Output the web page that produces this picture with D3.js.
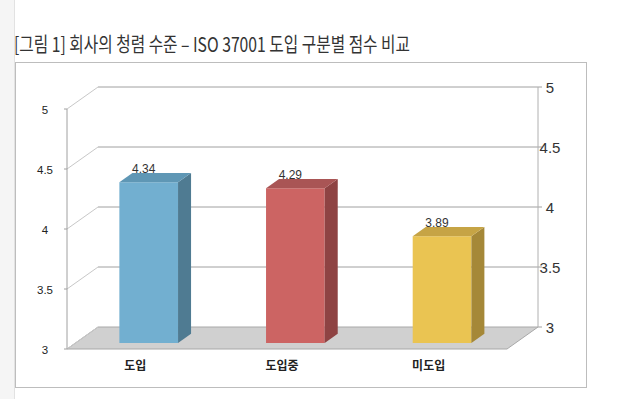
<!DOCTYPE html>
<html>
<head>
<meta charset="utf-8">
<script src="https://cdn.jsdelivr.net/npm/d3@7"></script>
<style>
  html, body { margin: 0; padding: 0; background: #fff; }
  svg { display: block; }
</style>
</head>
<body>
<div id="chart"></div>
<script>
// chart data
const titleText = "[그림 1] 회사의 청렴 수준 – ISO 37001 도입 구분별 점수 비교";
const categories = ["도입", "도입중", "미도입"];
const scores = [4.34, 4.29, 3.89];
const tickValues = [3, 3.5, 4, 4.5, 5];
const barColors = [
    { front: "#72afd0", side: "#4f7b92", top: "#5f97b5" },
    { front: "#cc6463", side: "#8e4343", top: "#a95555" },
    { front: "#eac452", side: "#a58838", top: "#c6a445" }
];

const W = 637, H = 399;
const svg = d3.select("#chart").append("svg")
    .attr("width", W)
    .attr("height", H);

// page background: gray side strip + title
svg.append("rect").attr("x", 0).attr("y", 0).attr("width", 14).attr("height", H).attr("fill", "#f5f5f5");
svg.append("line").attr("x1", 14.5).attr("x2", 14.5).attr("y1", 0).attr("y2", H).attr("stroke", "#e2e2e2");

svg.append("text")
    .attr("x", 14)
    .attr("y", 52)
    .attr("font-family", "'Noto Sans CJK KR', 'Noto Sans', sans-serif")
    .attr("font-size", 20)
    .attr("fill", "#333")
    .attr("textLength", 396)
    .attr("lengthAdjust", "spacingAndGlyphs")
    .text(titleText);

// chart frame
svg.append("rect")
    .attr("x", 15.5).attr("y", 62.5)
    .attr("width", 571).attr("height", 325)
    .attr("fill", "#fff")
    .attr("stroke", "#bdbdbd");

// 3d geometry: front floor edge origin and depth offset
const ox = 67, oy = 349, floorW = 440;
const depthX = 31, depthY = -22;

const x = d3.scaleBand().domain(categories).range([0, floorW]);
const y = d3.scaleLinear().domain([3, 5]).range([0, 240]);

// project (x along floor, value, depth 0=front..1=back) to screen
function proj(px, v, d) {
    return [ox + px + depthX * d, oy - y(v) + depthY * d];
}
const pts = arr => arr.map(p => p.join(",")).join(" ");

const g = svg.append("g");

// floor
g.append("polygon")
    .attr("points", pts([proj(0, 3, 0), proj(0, 3, 1), proj(floorW, 3, 1), proj(floorW, 3, 0)]))
    .attr("fill", "#d0d0d0")
    .attr("stroke", "#a8a8a8");

// back wall gridlines and side diagonals
tickValues.forEach(v => {
    const a = proj(0, v, 0), b = proj(0, v, 1), c = proj(floorW, v, 1);
    if (v > 3) {
        g.append("line")
            .attr("x1", b[0]).attr("y1", b[1]).attr("x2", c[0]).attr("y2", c[1])
            .attr("stroke", "#a0a0a0");
    }
    g.append("line")
        .attr("x1", a[0]).attr("y1", a[1]).attr("x2", b[0]).attr("y2", b[1])
        .attr("stroke", "#c8c8c8");
    // left tick
    g.append("line")
        .attr("x1", a[0] - 3).attr("y1", a[1]).attr("x2", a[0]).attr("y2", a[1])
        .attr("stroke", "#a0a0a0");
    // right tick
    g.append("line")
        .attr("x1", c[0]).attr("y1", c[1]).attr("x2", c[0] + 4).attr("y2", c[1])
        .attr("stroke", "#a0a0a0");
});

// left front axis and right back axis
const lf0 = proj(0, 3, 0), lf1 = proj(0, 5, 0);
g.append("line").attr("x1", lf0[0]).attr("y1", lf0[1]).attr("x2", lf1[0]).attr("y2", lf1[1]).attr("stroke", "#a0a0a0");
const rb0 = proj(floorW, 3, 1), rb1 = proj(floorW, 5, 1);
g.append("line").attr("x1", rb0[0]).attr("y1", rb0[1]).attr("x2", rb1[0]).attr("y2", rb1[1]).attr("stroke", "#b0b0b0");

// axis labels
g.selectAll("text.yl").data(tickValues).enter().append("text")
    .attr("class", "yl")
    .attr("x", 45)
    .attr("y", v => proj(0, v, 0)[1] + 5)
    .attr("text-anchor", "middle")
    .attr("font-family", "Arial, 'Liberation Sans', sans-serif")
    .attr("font-size", 11.5)
    .attr("fill", "#222")
    .text(v => v);

g.selectAll("text.yr").data(tickValues).enter().append("text")
    .attr("class", "yr")
    .attr("x", 550)
    .attr("y", v => proj(floorW, v, 1)[1] + 6)
    .attr("text-anchor", "middle")
    .attr("font-family", "Arial, 'Liberation Sans', sans-serif")
    .attr("font-size", 15)
    .attr("fill", "#333")
    .text(v => v);

// bars
const d1 = 0.27, d2 = 0.69;
const barW = x.bandwidth() * 0.4;

categories.forEach((cat, i) => {
    const v = scores[i];
    const c = barColors[i];
    const x0 = x(cat) + (x.bandwidth() - barW) / 2;
    const x1 = x0 + barW;
    const bg = g.append("g");
    // front face
    bg.append("polygon")
        .attr("points", pts([proj(x0, 3, d1), proj(x0, v, d1), proj(x1, v, d1), proj(x1, 3, d1)]))
        .attr("fill", c.front);
    // side face
    bg.append("polygon")
        .attr("points", pts([proj(x1, 3, d1), proj(x1, v, d1), proj(x1, v, d2), proj(x1, 3, d2)]))
        .attr("fill", c.side);
    // top face
    bg.append("polygon")
        .attr("points", pts([proj(x0, v, d1), proj(x0, v, d2), proj(x1, v, d2), proj(x1, v, d1)]))
        .attr("fill", c.top);

    // value label
    const top = proj(x0 + barW / 2, v, d1);
    g.append("text")
        .attr("x", top[0] - 5)
        .attr("y", top[1] - 9)
        .attr("text-anchor", "middle")
        .attr("font-family", "Arial, 'Liberation Sans', sans-serif")
        .attr("font-size", 12)
        .attr("fill", "#333")
        .text(v.toFixed(2));

    // category label
    const base = proj(x(cat) + x.bandwidth() / 2, 3, 0);
    g.append("text")
        .attr("x", base[0] - 5)
        .attr("y", base[1] + 21)
        .attr("text-anchor", "middle")
        .attr("font-family", "'Noto Sans CJK KR', sans-serif")
        .attr("font-weight", "bold")
        .attr("font-size", 12)
        .attr("fill", "#222")
        .text(cat);
});
</script>
</body>
</html>
